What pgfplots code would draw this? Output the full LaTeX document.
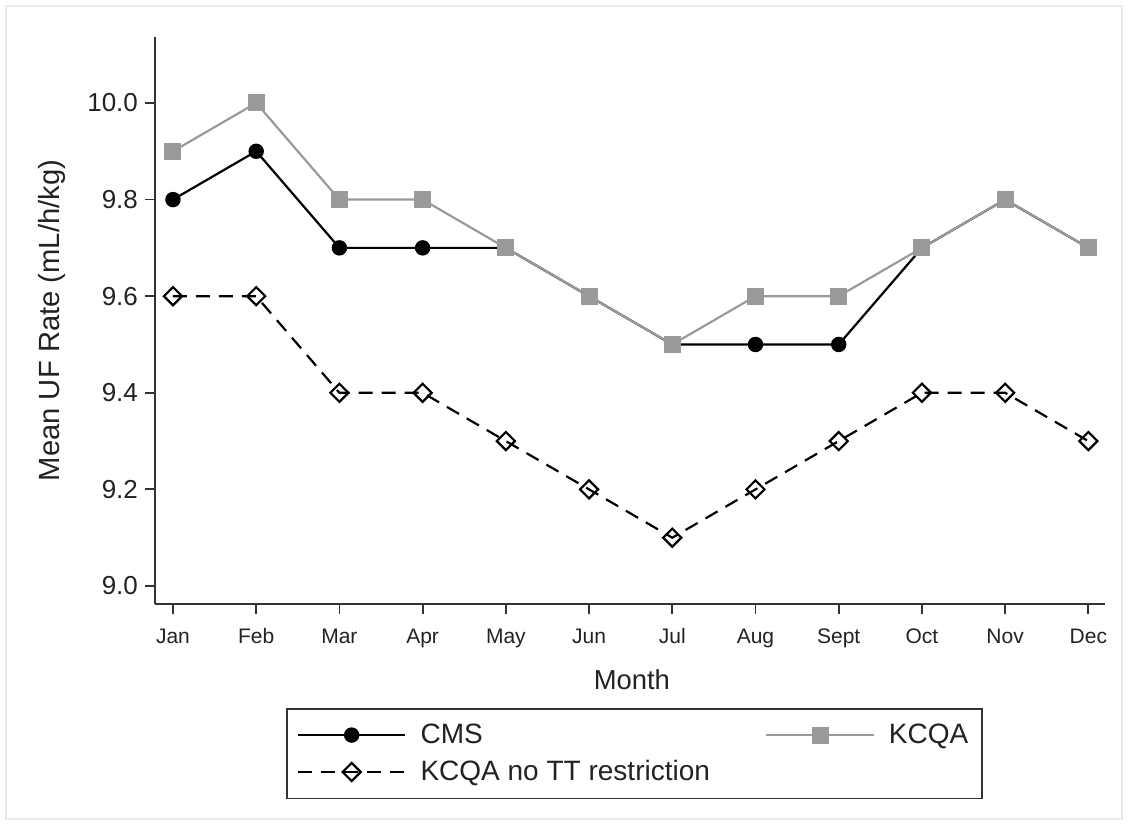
\documentclass[border=0pt]{standalone}
\usepackage{fontspec}
\setmainfont{Liberation Sans}
\usepackage{pgfplots}
\pgfplotsset{compat=1.18}
\definecolor{txt}{HTML}{222222}
\definecolor{axc}{HTML}{333333}
\definecolor{kgray}{HTML}{9A9A9A}
\begin{document}
\begin{tikzpicture}
\begin{axis}[
  scale only axis,
  width=475pt, height=283.5pt,
  xmin=-0.216, xmax=11.2,
  ymin=8.9627, ymax=10.1366,
  axis x line*=bottom, axis y line*=left,
  axis line style={axc, line width=0.9pt},
  tick style={axc, line width=0.9pt},
  tick align=outside,
  major tick length=5pt,
  xtick={0,...,11},
  xticklabels={Jan,Feb,Mar,Apr,May,Jun,Jul,Aug,Sept,Oct,Nov,Dec},
  ytick={9.0,9.2,9.4,9.6,9.8,10.0},
  /pgf/number format/fixed,
  /pgf/number format/fixed zerofill,
  /pgf/number format/precision=1,
  /pgf/number format/assume math mode=true,
  yticklabel style={font=\fontsize{13}{15}\selectfont, text=txt},
  xticklabel style={font=\fontsize{10.5}{12}\selectfont, text=txt, anchor=base, yshift=-14.5pt},
  xlabel={Month},
  ylabel={Mean UF Rate (mL/h/kg)},
  xlabel style={font=\fontsize{13.7}{16}\selectfont, text=txt, at={(axis description cs:0.502,-0.134)}, anchor=center},
  ylabel style={font=\fontsize{14.6}{17}\selectfont, text=txt, at={(axis description cs:-0.1084,0.5)}, anchor=center},
  legend columns=2,
  legend cell align=left,
  legend style={at={(axis description cs:0.1379,-0.1834)}, anchor=north west,
    draw=axc, line width=0.8pt, font=\fontsize{14}{17}\selectfont, text=txt,
    inner xsep=5pt, inner ysep=5.5pt,
    /tikz/every odd column/.append style={column sep=5pt},
    /tikz/every even column/.append style={column sep=25.6pt},
    row sep=3pt},
  legend image code/.code={\draw[mark repeat=2,mark phase=2] plot coordinates {(0cm,0cm) (0.945cm,0cm) (1.89cm,0cm)};},
]
\addplot[black, line width=1.1pt, mark=*, mark size=3.3pt, mark options={solid}] coordinates {
(0,9.8) (1,9.9) (2,9.7) (3,9.7) (4,9.7) (5,9.6) (6,9.5) (7,9.5) (8,9.5) (9,9.7) (10,9.8) (11,9.7)};
\addlegendentry{CMS}
\addplot[kgray, line width=1.1pt, mark=square*, mark size=3.7pt, mark options={solid, fill=kgray}] coordinates {
(0,9.9) (1,10.0) (2,9.8) (3,9.8) (4,9.7) (5,9.6) (6,9.5) (7,9.6) (8,9.6) (9,9.7) (10,9.8) (11,9.7)};
\addlegendentry{KCQA}
\addplot[black, line width=1.1pt, dash pattern=on 7pt off 4.5pt, mark=square, mark size=3.2pt, mark options={solid, fill=white, rotate=45}] coordinates {
(0,9.6) (1,9.6) (2,9.4) (3,9.4) (4,9.3) (5,9.2) (6,9.1) (7,9.2) (8,9.3) (9,9.4) (10,9.4) (11,9.3)};
\addlegendentry{KCQA no TT restriction}
\end{axis}
\draw[black!8, line width=0.6pt] (-74.5pt,-107.5pt) rectangle (483.5pt,299pt);
\path[use as bounding box] (-77.5pt,-110.5pt) rectangle (486.5pt,302pt);
\end{tikzpicture}
\end{document}
